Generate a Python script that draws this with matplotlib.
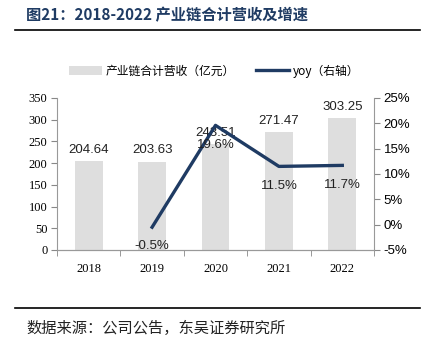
import matplotlib.pyplot as plt
import numpy as np

years = ["2018", "2019", "2020", "2021", "2022"]
revenue = [204.64, 203.63, 243.51, 271.47, 303.25]
yoy_years = ["2019", "2020", "2021", "2022"]
yoy = [-0.5, 19.6, 11.5, 11.7]

cjk = ["Noto Sans CJK SC", "DejaVu Sans"]
serif = "Liberation Serif"
sans = "Liberation Sans"
navy = "#1f3b63"
bar_c = "#dedede"

fig = plt.figure(figsize=(4.26, 3.52), dpi=100)
ax = fig.add_axes([57 / 426, 1 - 250 / 352, (374 - 57) / 426, (250 - 98) / 352])
ax2 = ax.twinx()

x = np.arange(len(years))
bars = ax.bar(x, revenue, width=0.44, color=bar_c, label="产业链合计营收（亿元）", zorder=1)
for xi, v in zip(x, revenue):
    ax.text(xi, v + 12, f"{v:.2f}", ha="center", va="bottom", fontsize=9.5, family=sans, color="#222222")

xl = [years.index(y) for y in yoy_years]
ax2.plot(xl, yoy, color=navy, lw=2.4, label="yoy（右轴）", zorder=3)
for xi, v in zip(xl, yoy):
    ax2.text(xi, v - 2.6, f"{v:.1f}%", ha="center", va="top", fontsize=9.5, family=sans, color="#222222")

ax.set_ylim(0, 350)
ax.set_yticks(range(0, 351, 50))
ax2.set_ylim(-5, 25)
ax2.set_yticks(range(-5, 26, 5))
ax2.set_yticklabels([f"{t}%" for t in range(-5, 26, 5)])
ax.set_xlim(-0.5, 4.5)
ax.set_xticks(x)
ax.set_xticklabels(years)
ax.set_xticks(np.arange(-0.5, 5, 1), minor=True)
ax.tick_params(axis="x", which="major", length=0, pad=9)
ax.tick_params(axis="x", which="minor", length=4, direction="out", color="#888888")

for t in ax.get_yticklabels() + ax.get_xticklabels():
    t.set_family(serif)
    t.set_fontsize(9)
for t in ax2.get_yticklabels():
    t.set_family(sans)
    t.set_fontsize(9.5)
ax.tick_params(axis="y", length=4, color="#888888", pad=3)
ax2.tick_params(axis="y", length=4, color="#888888", pad=3)

for a in (ax, ax2):
    a.spines["top"].set_visible(False)
    for s in ("left", "right", "bottom"):
        a.spines[s].set_color("#999999")
        a.spines[s].set_linewidth(0.8)
ax.spines["right"].set_visible(False)
ax2.spines["left"].set_visible(False)
ax.set_zorder(0)
ax2.set_zorder(1)

h1, l1 = ax.get_legend_handles_labels()
h2, l2 = ax2.get_legend_handles_labels()
fig.legend(h1 + h2, l1 + l2, loc="center", bbox_to_anchor=(214 / 426, 1 - 71 / 352), ncol=2,
           frameon=False, prop={"family": cjk, "size": 8.5}, handlelength=2.8, columnspacing=1.85,
           handletextpad=0.3)

fig.text(26 / 426, 1 - 15 / 352, "图21：2018-2022 产业链合计营收及增速", fontsize=11, fontweight="bold",
         color=navy, family=cjk, va="center")
fig.add_artist(plt.Line2D([15 / 426, 420 / 426], [1 - 29.5 / 352] * 2, color="black", lw=1.2))
fig.add_artist(plt.Line2D([15 / 426, 420 / 426], [1 - 308 / 352] * 2, color="black", lw=1.2))
fig.text(26 / 426, 1 - 328 / 352, "数据来源：公司公告，东吴证券研究所", fontsize=11, color="#222222",
         family=cjk, va="center")

fig.savefig("out.png", dpi=100)
